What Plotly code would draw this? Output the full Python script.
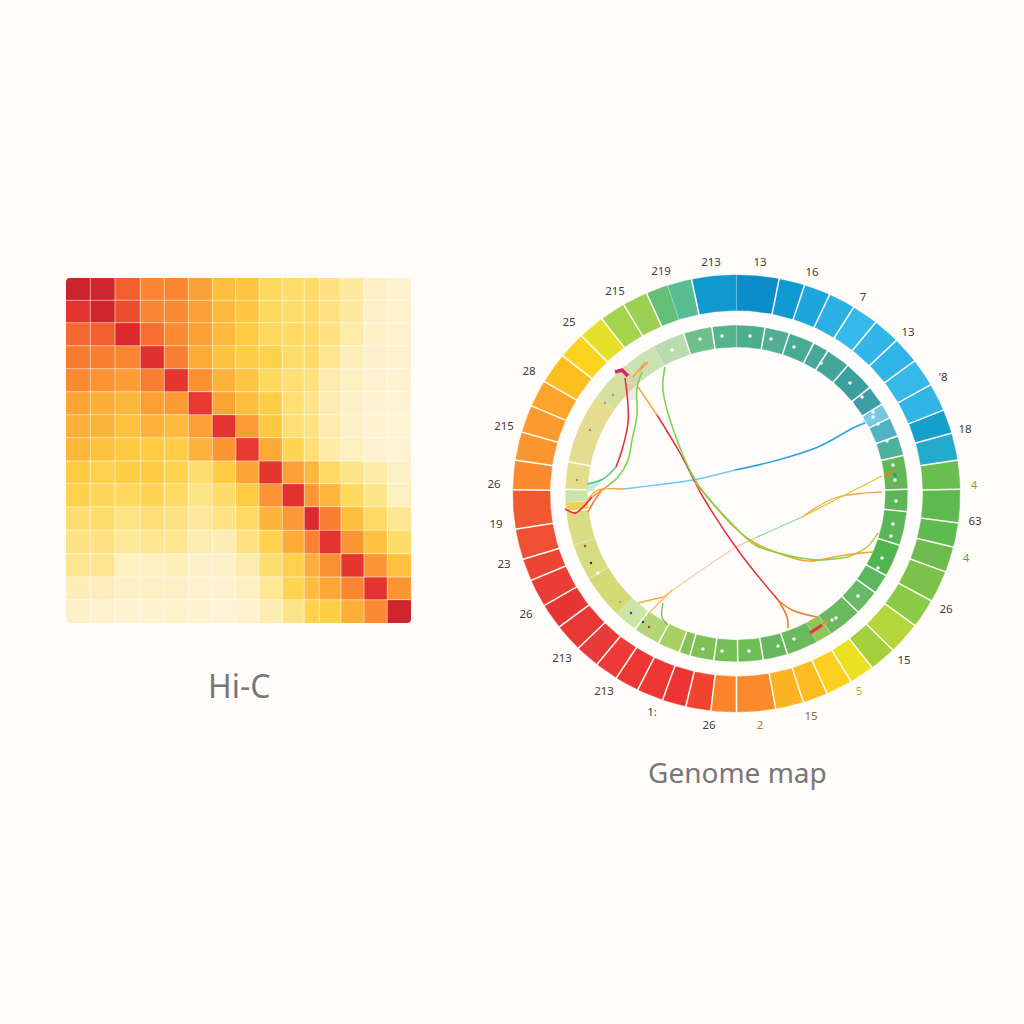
import math
import plotly.graph_objects as go

BG = "#fffcf9"
DISC = "#fffdfb"
# ---------- Hi-C matrix ----------
hic_x_edges = [66,90.3,115,140.3,164.3,188.3,212.3,235.7,259,282.3,304.3,319.3,341,364,387.3,410.7]
hic_y_edges = [278,300.3,322.7,345.7,368.7,391.7,414.7,437.7,461,483.7,506.7,530.3,553.7,577,599.7,622.7]
hic_values = [
 [.99,.98,.82,.72,.72,.62,.48,.46,.33,.30,.31,.24,.17,.08,.04],
 [.92,.98,.86,.72,.70,.62,.50,.45,.33,.30,.31,.24,.17,.08,.05],
 [.80,.82,.96,.78,.70,.62,.50,.42,.33,.31,.31,.24,.15,.07,.05],
 [.75,.74,.72,.94,.74,.58,.46,.40,.38,.30,.31,.20,.11,.06,.05],
 [.70,.67,.63,.74,.91,.68,.54,.45,.33,.27,.25,.14,.09,.05,.04],
 [.60,.56,.52,.62,.64,.90,.60,.48,.40,.27,.22,.13,.07,.04,.03],
 [.55,.53,.47,.54,.50,.62,.92,.64,.43,.27,.24,.14,.07,.04,.02],
 [.52,.47,.43,.42,.41,.54,.66,.90,.58,.36,.27,.15,.10,.05,.03],
 [.42,.39,.40,.42,.38,.29,.42,.60,.91,.62,.51,.32,.22,.15,.08],
 [.38,.35,.34,.36,.32,.22,.30,.42,.67,.93,.66,.52,.33,.22,.10],
 [.28,.30,.23,.27,.24,.17,.23,.32,.53,.65,.96,.74,.48,.32,.20],
 [.23,.24,.18,.20,.20,.13,.12,.24,.38,.57,.73,.92,.66,.47,.30],
 [.20,.20,.09,.10,.11,.07,.08,.14,.28,.39,.56,.68,.91,.66,.47],
 [.12,.11,.07,.09,.08,.05,.05,.10,.19,.36,.49,.59,.72,.92,.66],
 [.06,.05,.04,.04,.05,.04,.03,.05,.13,.22,.38,.40,.55,.70,.98],
]
hic_colorscale = [[0,"#fef5dc"],[.1,"#fdefc0"],[.2,"#fee690"],[.33,"#ffd95e"],[.42,"#fecb42"],
                  [.52,"#fdb63c"],[.62,"#fca035"],[.72,"#fb8632"],[.82,"#f26031"],[.9,"#e63a30"],
                  [.95,"#e02c2e"],[1,"#c4222d"]]

# ---------- Rings (angles clockwise from 12 o'clock, degrees) ----------
CX, CY = 736.5, 493.5
outer_edges = [0,11,17.7,24.6,31.6,38.5,45.6,52.7,60.2,67.6,74,81.2,88.9,97.7,104.2,111,119.4,127.1,135.7,
               142.7,149.2,156.1,162.6,169.9,180,186.6,193.1,199.3,206.2,212.5,218.6,225,232.4,239.2,246.6,
               252.5,260.6,271,278.8,286.3,293.6,300.8,309,316.1,323,329.7,336.3,342,348.4,360]
outer_colors = ["#0b8dc9","#1098d2","#1fa5de","#2bb0e6","#35b8ea","#32b5e8","#30b3e6","#36b8e8","#30b5e6",
                "#14a0ca","#25a9cf","#68bf4e","#5eba4f","#5fbb50","#6dbb4e","#7cc24a","#8aca45","#b3d63a",
                "#a4d03d","#ece022","#fdd01f","#fdbb1f","#fcb322","#fc8a2c","#fb842b","#ef4530","#ee3333",
                "#ee3632","#ec3634","#ee3a36","#e83a38","#e83835","#e63634","#ea3d35","#ec4535","#ef5034",
                "#f0592f","#f98a2f","#fb9530","#fb9a2e","#fda52a","#fdbe1f","#fbd31e","#e5e02a","#a4d34c",
                "#9ccf53","#63be76","#59bd94","#0f99cc"]
outer_faint = [342, 0]
outer_rx = (186.5, 223.5)
outer_ry = (183, 218.5)

inner_edges = [0,9.6,18,26.8,32.2,40.5,51,58,63.3,70,76.9,88.6,96.2,107.9,119.2,126,134.8,146.5,152,162.7,171,179.6,
               187.6,195.8,199.5,207.1,216.3,224.2,239.6,252.1,263.8,267,271.4,280.9,305,320,331,342,351.7,360]
inner_colors = ["#4cae8e","#52ae92","#49ab95","#47a89a","#44a59b","#3b9f9d","#3d9ea5","#76c7e0","#4fb3c3",
                "#4ab19c","#63b855","#5cb558","#5bb658","#50b44f","#5cb75f","#67ba65","#6bb95e","#90c653","#6bb95e","#66b85c",
                "#6fbd57","#76bf55","#7dc254","#86c357","#a8cf62","#b4d578","#cce4a5","#d3da75","#d6dc7f",
                "#dadc85","#f2cf55","#cde4a8","#e6dd8c","#e4dc8f","#d5e0a0","#c8e3b0","#b8dcae","#6ebf8a","#55b48c"]
inner_faint = [146.5,152,224.2,239.6,252.1,267,305,320,331,0]
inner_rx = (149, 171)
inner_ry = (146.5, 168)

label_texts = ["213","13","16","7","13","'8","18","4","63","4","26","15","5","15","2","26","1:","213","213",
               "26","23","19","26","215","28","25","215","219"]
label_x = [711,760,812,863,908,943,965,974,975,966,946,904,859,811,760,709,652,604,562,526,504,496,494,504,529,569,615,661]
label_y = [263,263,273,298,333,378,430,486,522,559,610,661,692,717,726,726,713,692,659,615,565,525,485,427,372,323,292,272]
label_colors = ["#3d3d3d"]*7 + ["#7fa83c","#3d3d3d","#6f9a45"] + ["#3d3d3d"]*2 + ["#b5b52a","#8a6a3a","#b5763a"] + ["#3d3d3d"]*13

# ---------- Links: points, page pixels ----------
links = [
 ("#2fa3e2",[865,855,818,778,735],[423,427,447,460,470],1.6),
 ("#6fc9ea",[735,693,640,623],[470,480,487,489],1.3),
 ("#f4a040",[623,598,590,587],[489,490,497,503],1.3),
 ("#f57a35",[602,593,588],[490,503,512],1.5),
 ("#7fd34f",[642,637,637,632,628,618,605],[372,388,415,440,460,477,488],1.6),
 ("#f5a040",[605,592],[488,497],1.6),
 ("#e8304a",[592,580,575,565],[497,510,513,509],1.8),
 ("#e8304a",[625,628,628,622,616],[378,405,423,450,467],1.6),
 ("#5fc98a",[616,603,587],[467,479,484],1.6),
 ("#f2a65a",[882,835,802],[492,498,517],1.3),
 ("#e0c828",[882,835,802],[476,500,517],1.4),
 ("#84dca6",[802,755],[517,538],1.2),
 ("#f9cfa0",[755,735,690,663],[538,548,578,597],1.4),
 ("#f7a93c",[663,638],[597,603],1.3),
 ("#f7b64e",[672,650],[590,612],1.2),
 ("#6fc24e",[663,662,668],[603,617,625],1.3),
 ("#f5a142",[638,657],[387,415],1.4),
 ("#e8303a",[657,680,703,740,778],[415,453,497,553,600],1.5),
 ("#f57a25",[778,787,788],[600,617,628],1.6),
 ("#f57a25",[778,792,817],[600,610,617],1.5),
 ("#f5a521",[695,735,755,778,808,845,873],[482,528,543,553,561,555,552],1.6),
 ("#7fd34f",[665,663,677,697,735,755,778,818,848],[367,390,440,483,527,545,553,560,557],1.6),
 ("#b8c22a",[848,867,878],[557,547,533],1.4),
]
accent_colors = ["#d6246e","#e8304a","#f58a3a","#f57a25","#e6c84a","#f59a40","#2f9e8f","#f5a142"]
accent_x = [[615,622,628],[810,822],[823,827],[884,893],[633,640],[640,648],[894,896],[633,645]]
accent_y = [[372,370,376],[633,625],[624,622],[476,472],[377,370],[370,362],[473,477],[377,362]]
accent_w = [3.5,3.2,3,2,1.6,1.6,3,1.3]

fan_x = [[587,603,592,587],[862,872,880,866],[625,640,636,628]]
fan_y = [[483,480,491,491],[422,408,420,424],[376,372,400,400]]
fan_colors = ["rgba(190,230,210,0.8)","rgba(130,205,235,0.5)","rgba(215,190,190,0.35)"]

white_x = [750,771,794,821,850,862,873,873,878,887,893,895,896,893,891,882,878,858,832,836,794,778,749,722,703,598,722,700,672]
white_y = [336,339,347,363,383,397,412,417,424,441,465,480,501,524,536,558,568,596,620,618,639,646,651,651,649,573,336,339,350]
dark_x = [577,590,605,613,585,591,631,643,649,620]
dark_y = [480,430,403,395,546,563,613,622,627,602]
dark_colors = ["#a08a50","#b08a50","#b09a60","#b09a60","#a0503a","#503030","#404a90","#504040","#d83040","#b0a060"]


def wedge(a0, a1, rx, ry):
    n = max(2, int(a1 - a0) + 2)
    angs = [a0 + (a1 - a0) * i / (n - 1) for i in range(n)]
    xs = [CX + rx[1] * math.sin(math.radians(a)) for a in angs]
    ys = [CY - ry[1] * math.cos(math.radians(a)) for a in angs]
    xs += [CX + rx[0] * math.sin(math.radians(a)) for a in reversed(angs)]
    ys += [CY - ry[0] * math.cos(math.radians(a)) for a in reversed(angs)]
    return xs + xs[:1], ys + ys[:1]


fig = go.Figure()
fig.add_trace(go.Heatmap(x=hic_x_edges, y=hic_y_edges, z=hic_values, zmin=0, zmax=1,
                         colorscale=hic_colorscale, showscale=False, hoverinfo="skip"))
gx, gy = [], []
for e in hic_x_edges[1:-1]:
    gx += [e, e, None]
    gy += [hic_y_edges[0], hic_y_edges[-1], None]
for e in hic_y_edges[1:-1]:
    gx += [hic_x_edges[0], hic_x_edges[-1], None]
    gy += [e, e, None]
fig.add_trace(go.Scatter(x=gx, y=gy, mode="lines", line=dict(color="rgba(255,255,255,0.55)", width=1),
                         hoverinfo="skip", showlegend=False))

# pale disc behind the rings
dx, dy = wedge(0, 360, (0, outer_rx[0] + 1), (0, outer_ry[0] + 1))
fig.add_trace(go.Scatter(x=dx, y=dy, mode="lines", fill="toself", fillcolor=DISC, line=dict(width=0),
                         hoverinfo="skip", showlegend=False))

for edges, colors, rx, ry, faint in [(outer_edges, outer_colors, outer_rx, outer_ry, outer_faint),
                                     (inner_edges, inner_colors, inner_rx, inner_ry, inner_faint)]:
    sx, sy, fx, fy = [], [], [], []
    for i, c in enumerate(colors):
        xs, ys = wedge(edges[i], edges[i + 1], rx, ry)
        fig.add_trace(go.Scatter(x=xs, y=ys, mode="lines", fill="toself", fillcolor=c,
                                 line=dict(width=0.4, color=c), hoverinfo="skip", showlegend=False))
    for a in edges[:-1]:
        s, co = math.sin(math.radians(a)), math.cos(math.radians(a))
        px, py = (fx, fy) if a in faint else (sx, sy)
        px += [CX + (rx[0] - 1) * s, CX + (rx[1] + 1) * s, None]
        py += [CY - (ry[0] - 1) * co, CY - (ry[1] + 1) * co, None]
    fig.add_trace(go.Scatter(x=sx, y=sy, mode="lines", line=dict(color="#fffdfa", width=1.5),
                             hoverinfo="skip", showlegend=False))
    fig.add_trace(go.Scatter(x=fx, y=fy, mode="lines", line=dict(color="rgba(255,253,250,0.3)", width=1.2),
                             hoverinfo="skip", showlegend=False))

for c, xs, ys in zip(fan_colors, fan_x, fan_y):
    fig.add_trace(go.Scatter(x=xs + xs[:1], y=ys + ys[:1], mode="lines", fill="toself", fillcolor=c,
                             line=dict(width=0), hoverinfo="skip", showlegend=False))
for c, xs, ys, w in links:
    fig.add_trace(go.Scatter(x=xs, y=ys, mode="lines", line=dict(color=c, width=w, shape="spline", smoothing=1),
                             hoverinfo="skip", showlegend=False))
for c, xs, ys, w in zip(accent_colors, accent_x, accent_y, accent_w):
    fig.add_trace(go.Scatter(x=xs, y=ys, mode="lines", line=dict(color=c, width=w),
                             hoverinfo="skip", showlegend=False))

fig.add_trace(go.Scatter(x=white_x, y=white_y, mode="markers", marker=dict(color="#ffffff", size=3.5),
                         hoverinfo="skip", showlegend=False))
fig.add_trace(go.Scatter(x=dark_x, y=dark_y, mode="markers", marker=dict(color=dark_colors, size=2.5),
                         hoverinfo="skip", showlegend=False))
fig.add_trace(go.Scatter(x=label_x, y=label_y, mode="text", text=label_texts,
                         textfont=dict(family="Noto Sans", size=11.5, color=label_colors),
                         textposition="middle center", hoverinfo="skip", showlegend=False))

corner_shapes = []
for (x, y, sx_, sy_) in [(66, 278, 1, 1), (411, 278, -1, 1), (66, 623, 1, -1), (411, 623, -1, -1)]:
    corner_shapes.append(dict(type="path", xref="x", yref="y", line=dict(width=0), fillcolor=BG, layer="above",
                              path=f"M{x},{y} L{x+4*sx_},{y} Q{x},{y} {x},{y+4*sy_} Z"))

fig.update_layout(
    width=1024, height=1024, margin=dict(l=0, r=0, t=0, b=0),
    paper_bgcolor=BG, plot_bgcolor=BG, showlegend=False, shapes=corner_shapes,
    xaxis=dict(range=[0, 1024], visible=False, fixedrange=True),
    yaxis=dict(range=[1024, 0], visible=False, fixedrange=True),
    annotations=[
        dict(x=239, y=685, text="Hi-C", showarrow=False, xref="x", yref="y",
             font=dict(family="Noto Sans", size=32, color="#777777")),
        dict(x=737.5, y=772, text="Genome map", showarrow=False, xref="x", yref="y",
             font=dict(family="Noto Sans", size=28, color="#777777")),
    ],
)
fig.write_html("out.html", config={"displayModeBar": False},
               post_script="document.body.style.margin='0';document.body.style.background='%s';" % BG)
